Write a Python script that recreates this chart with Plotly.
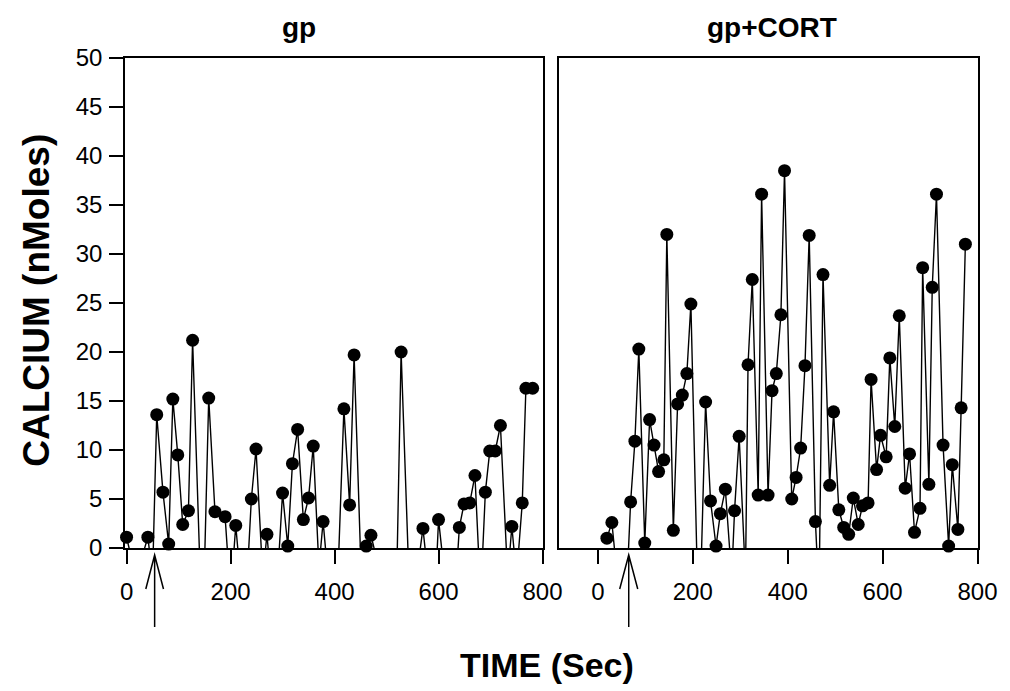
import plotly.graph_objects as go

# ---------------- data ----------------
# gp panel (time in s, calcium in nMoles); negative values are dips clipped by the axis
gp_time = [0, 18, 41, 50, 58, 70, 81, 89, 98.5, 108, 119, 127, 146, 158, 170, 189.5, 200,
           210, 227, 240, 249, 262, 270, 285, 300, 310, 319, 329, 340, 350, 359, 370,
           378, 401, 418, 429, 437.6, 452, 461, 470, 485, 520, 528, 545, 560, 570,
           580, 595, 600, 612, 634, 640, 649, 660, 670, 681, 690, 698.5, 709, 719,
           733, 741, 750, 761, 768, 781]
gp_calcium = [1.1, -3, 1.1, -3, 13.6, 5.7, 0.4, 15.2, 9.5, 2.4, 3.8, 21.2, -10, 15.3, 3.7, 3.2, -5,
              2.3, -8, 5.0, 10.1, -3, 1.4, -8, 5.6, 0.2, 8.6, 12.1, 2.9, 5.1, 10.4, -2,
              2.7, -11, 14.2, 4.4, 19.7, -4, 0.2, 1.3, -2, -2, 20.0, -6, -2, 2.0,
              -3, -3, 2.9, -3, -3, 2.1, 4.5, 4.6, 7.4, -5, 5.7, 9.9, 9.9, 12.5,
              -3, 2.2, -3, 4.6, 16.3, 16.3]

# gp+CORT panel
cort_time = [19, 29.5, 45, 60, 69, 78, 86.3, 98.8, 109, 118.3, 128, 139, 145.3, 159, 168,
             178, 187.5, 196, 213, 227, 237.4, 249, 258, 268.6, 282, 288, 297.7, 311,
             316.4, 325.4, 337.8, 345, 358.6, 367, 376, 385.7, 393.3, 408.5, 417.7,
             427.3, 436.4, 445.3, 458.4, 466, 474.4, 488.4, 496.7, 507.7, 518, 528.5,
             538.2, 548.6, 557.6, 569.4, 575.7, 587.3, 595.6, 607.5, 615.2, 625.6,
             635.1, 647.6, 656.8, 667.2, 678.8, 684.4, 697.5, 704.6, 713.5, 727.4,
             739.1, 746.8, 758.6, 765.5, 774.4]
cort_calcium = [1.0, 2.6, -5, -5, 4.7, 10.9, 20.3, 0.5, 13.1, 10.5, 7.8, 9.0, 32.0, 1.8, 14.7,
                15.6, 17.8, 24.9, -10, 14.9, 4.8, 0.2, 3.5, 6.0, -3, 3.8, 11.4, -3,
                18.7, 27.4, 5.4, 36.1, 5.4, 16.05, 17.8, 23.8, 38.5, 5.0, 7.2,
                10.2, 18.6, 31.9, 2.7, -5, 27.9, 6.4, 13.9, 3.9, 2.1, 1.4,
                5.1, 2.4, 4.3, 4.6, 17.2, 8.0, 11.5, 9.3, 19.4, 12.4,
                23.7, 6.1, 9.6, 1.6, 4.05, 28.6, 6.5, 26.6, 36.1, 10.5,
                0.2, 8.5, 1.9, 14.3, 31.0]

panel_titles = ["gp", "gp+CORT"]
stim_times = [54, 65]          # arrow (stimulus) times for each panel
x_ticks = [0, 200, 400, 600, 800]
y_ticks = [0, 5, 10, 15, 20, 25, 30, 35, 40, 45, 50]

# ---------------- figure ----------------
fig = go.Figure()

def add_series(t, v, xa, ya):
    fig.add_trace(go.Scatter(x=t, y=v, mode="lines", xaxis=xa, yaxis=ya,
                             line=dict(color="black", width=1.4), showlegend=False,
                             hoverinfo="skip"))
    fig.add_trace(go.Scatter(x=t, y=[val if val >= 0 else None for val in v],
                             mode="markers", xaxis=xa, yaxis=ya, cliponaxis=False,
                             marker=dict(color="black", size=13), showlegend=False))

add_series(gp_time, gp_calcium, "x", "y")
add_series(cort_time, cort_calcium, "x2", "y2")

tickfont = dict(family="Liberation Sans, Arial, sans-serif", size=24, color="black")
axis_common = dict(showgrid=False, zeroline=False, showline=True, linecolor="black",
                   linewidth=1.5, mirror=True, tickcolor="black", tickwidth=1.5,
                   ticklen=14, ticks="outside", tickfont=tickfont)

fig.update_layout(
    width=1002, height=683,
    paper_bgcolor="white", plot_bgcolor="white",
    margin=dict(l=117, r=25, t=50, b=143),
    xaxis=dict(domain=[0, 0.4895], range=[-3, 800], tickvals=x_ticks,
               ticklabelstandoff=7, **axis_common),
    yaxis=dict(range=[0, 50], tickvals=y_ticks, ticklabelstandoff=2, **axis_common),
    xaxis2=dict(domain=[0.5093, 1], range=[-81, 801], tickvals=x_ticks,
                ticklabelstandoff=7, anchor="y2", **axis_common),
    yaxis2=dict(range=[0, 50], anchor="x2", **{**axis_common, "ticks": "",
                                                "showticklabels": False}),
)

title_font = dict(family="Liberation Sans, Arial, sans-serif", size=28, color="black")
for txt, px in [(panel_titles[0], 0.2035), (panel_titles[1], 0.758)]:
    fig.add_annotation(text="<b>" + txt + "</b>", x=px, y=1.063, xref="paper",
                       yref="paper", showarrow=False, font=title_font,
                       xanchor="center", yanchor="middle")
fig.add_annotation(text="<b>CALCIUM (nMoles)</b>", x=-0.1047, y=0.506, xref="paper",
                   yref="paper", showarrow=False, textangle=-90,
                   xanchor="center", yanchor="middle",
                   font=dict(family="Liberation Sans, Arial, sans-serif", size=37, color="black"))
fig.add_annotation(text="<b>TIME (Sec)</b>", x=0.495, y=-0.239, xref="paper",
                   yref="paper", showarrow=False, xanchor="center", yanchor="middle",
                   font=dict(family="Liberation Sans Narrow, Arial Narrow, Liberation Sans, sans-serif",
                             size=34, color="black"))

# stimulus arrows (open heads) below each panel
for xr, st, half in [("x", stim_times[0], 17), ("x2", stim_times[1], 19)]:
    path = (f"M {st},-0.161 L {st},-0.0143 "
            f"M {st - half},-0.0837 L {st},-0.0143 L {st + half},-0.0837")
    fig.add_shape(type="path", path=path, xref=xr, yref="paper",
                  line=dict(color="black", width=1.5))

fig.write_html("out.html")
